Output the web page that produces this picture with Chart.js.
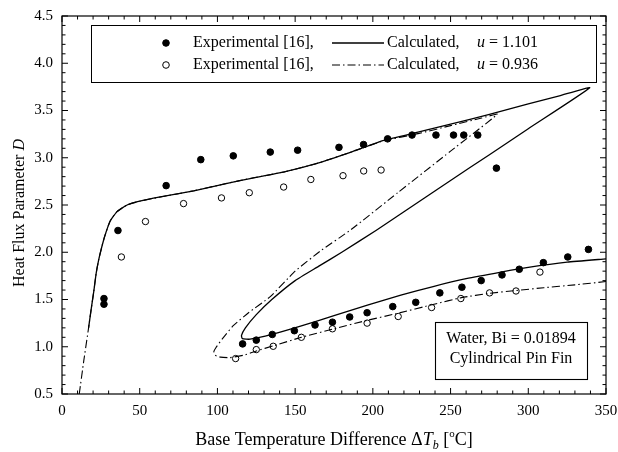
<!DOCTYPE html>
<html>
<head>
<meta charset="utf-8">
<script src="https://cdn.jsdelivr.net/npm/chart.js@4.4.1/dist/chart.umd.min.js"></script>
<style>
  html, body { margin: 0; padding: 0; background: #fff; }
  #wrap { position: relative; width: 618px; height: 452px; }
</style>
</head>
<body>
<div id="wrap"><canvas id="heatFluxChart"></canvas></div>
<script>
// Axis ticks
const xTicks = [0, 50, 100, 150, 200, 250, 300, 350];
const yTicks = [0.5, 1.0, 1.5, 2.0, 2.5, 3.0, 3.5, 4.0, 4.5];
const xMinorStep = 10;
const yMinorStep = 0.1;

// Experimental [16], filled markers
const expFilledX = [27, 27, 36, 67, 89.3, 110.2, 134, 151.6, 178.2, 194, 209.5, 225.2, 240.6, 251.9, 258.5, 267.5, 279.5,
  116.2, 125, 135.3, 149.5, 162.8, 174, 185.1, 196.3, 212.8, 227.6, 243.1, 257.3, 269.7, 283.1, 294.2, 309.7, 325.4, 338.7];
const expFilledY = [1.51, 1.45, 2.23, 2.705, 2.98, 3.02, 3.06, 3.08, 3.11, 3.14, 3.20, 3.24, 3.24, 3.24, 3.24, 3.24, 2.89,
  1.03, 1.07, 1.13, 1.17, 1.23, 1.26, 1.315, 1.36, 1.425, 1.47, 1.57, 1.63, 1.70, 1.76, 1.82, 1.89, 1.95, 2.03];

// Experimental [16], open markers
const expOpenX = [38.2, 53.7, 78.2, 102.6, 120.5, 142.6, 160.1, 180.8, 194.1, 205.3,
  111.7, 125, 135.9, 154, 174, 196.3, 216.3, 237.8, 256.6, 275.1, 292.1, 307.5];
const expOpenY = [1.95, 2.325, 2.515, 2.575, 2.63, 2.69, 2.77, 2.81, 2.86, 2.87,
  0.875, 0.97, 1.005, 1.10, 1.19, 1.25, 1.32, 1.415, 1.51, 1.57, 1.59, 1.79];

// Calculated, u = 1.101 (solid)
const calcAX = [17.1, 18.8, 20.4, 22, 23.6, 25.5, 27.5, 31, 35.4, 41.9, 50, 63.3, 84.8, 106.3, 121, 143, 164, 186, 207, 229,
  250, 275, 300, 320, 339.5, 300, 275, 250, 226, 202, 180, 165, 150, 135, 125, 118, 115.5, 116, 121,
  135, 154, 175, 196.5, 218, 239.4, 260, 282.4, 300, 325, 350];
const calcAY = [1.2, 1.4, 1.58, 1.78, 1.92, 2.05, 2.17, 2.33, 2.43, 2.50, 2.54, 2.585, 2.65, 2.73, 2.78, 2.85, 2.94, 3.06, 3.185, 3.27,
  3.355, 3.46, 3.57, 3.655, 3.74, 3.307, 3.032, 2.76, 2.494, 2.23, 2.00, 1.85, 1.70, 1.50, 1.34, 1.20, 1.12, 1.085, 1.08,
  1.13, 1.22, 1.33, 1.44, 1.545, 1.64, 1.72, 1.79, 1.84, 1.895, 1.93];

// Calculated, u = 0.936 (dash-dot)
const calcBX = [11.1, 14, 17.1, 18.8, 20.4, 22, 23.6, 25.5, 27.5, 31, 35.4, 41.9, 50, 63.3, 84.8, 106.3, 121, 143, 164, 186, 207, 229,
  250, 270, 280, 250, 216, 186, 166, 150, 134, 120, 110, 103, 99, 97.7, 98.5, 102, 108, 118, 125,
  136, 154, 175, 196.5, 215, 239.4, 257, 275, 292, 310, 330, 350];
const calcBY = [0.5, 0.85, 1.2, 1.4, 1.58, 1.78, 1.92, 2.05, 2.17, 2.33, 2.43, 2.50, 2.54, 2.585, 2.65, 2.73, 2.78, 2.85, 2.94, 3.06, 3.18, 3.255,
  3.34, 3.42, 3.46, 3.07, 2.63, 2.24, 2.01, 1.80, 1.53, 1.36, 1.22, 1.08, 0.99, 0.95, 0.91, 0.89, 0.885, 0.915, 0.955,
  1.01, 1.10, 1.19, 1.28, 1.35, 1.45, 1.52, 1.565, 1.595, 1.625, 1.655, 1.69];

const SERIF = "'Liberation Serif', 'Times New Roman', serif";
const dashDot = [8, 3, 1.5, 3];

function toPoints(xs, ys) {
  return xs.map((x, i) => ({ x: x, y: ys[i] }));
}

// draws a run of text pieces (some italic / sub / sup) starting at x
function drawPieces(ctx, pieces, x, y, size) {
  pieces.forEach((p) => {
    ctx.font = (p.italic ? "italic " : "") + (p.size || size) + "px " + SERIF;
    ctx.fillText(p.text, x, y + (p.dy || 0));
    x += ctx.measureText(p.text).width;
  });
  return x;
}
function piecesWidth(ctx, pieces, size) {
  let w = 0;
  pieces.forEach((p) => {
    ctx.font = (p.italic ? "italic " : "") + (p.size || size) + "px " + SERIF;
    w += ctx.measureText(p.text).width;
  });
  return w;
}

// Frame, inward ticks on all four sides, axis titles
const frameTicks = {
  id: "frameTicks",
  afterDatasetsDraw(chart) {
    const { ctx, chartArea: a, scales } = chart;
    ctx.save();
    ctx.strokeStyle = "#000";
    ctx.lineWidth = 1.2;
    ctx.strokeRect(a.left, a.top, a.right - a.left, a.bottom - a.top);

    ctx.beginPath();
    for (let v = xTicks[0]; v <= xTicks[xTicks.length - 1] + 0.001; v += xMinorStep) {
      const px = scales.x.getPixelForValue(v);
      const len = v % 50 === 0 ? 6 : 3.5;
      ctx.moveTo(px, a.bottom); ctx.lineTo(px, a.bottom - len);
      ctx.moveTo(px, a.top); ctx.lineTo(px, a.top + len);
    }
    for (let i = 0; i <= 40; i++) {
      const v = yTicks[0] + i * yMinorStep;
      const py = scales.y.getPixelForValue(v);
      const len = i % 5 === 0 ? 6 : 3.5;
      ctx.moveTo(a.left, py); ctx.lineTo(a.left + len, py);
      ctx.moveTo(a.right, py); ctx.lineTo(a.right - len, py);
    }
    ctx.lineWidth = 1;
    ctx.stroke();

    // x title
    ctx.fillStyle = "#000";
    ctx.textBaseline = "alphabetic";
    ctx.textAlign = "left";
    const xt = [
      { text: "Base Temperature Difference \u0394" },
      { text: "T", italic: true },
      { text: "b", italic: true, size: 12, dy: 4 },
      { text: " [" },
      { text: "o", size: 11, dy: -8 },
      { text: "C]" }
    ];
    const xw = piecesWidth(ctx, xt, 18);
    drawPieces(ctx, xt, (a.left + a.right) / 2 - xw / 2, 445, 18);

    // y title
    ctx.save();
    ctx.translate(24, 213);
    ctx.rotate(-Math.PI / 2);
    const yt = [{ text: "Heat Flux Parameter " }, { text: "D", italic: true }];
    const yw = piecesWidth(ctx, yt, 16);
    drawPieces(ctx, yt, -yw / 2, 0, 16);
    ctx.restore();
    ctx.restore();
  }
};

// Legend box and annotation box
const boxes = {
  id: "boxes",
  afterDraw(chart) {
    const { ctx } = chart;
    ctx.save();
    ctx.fillStyle = "#fff";
    ctx.strokeStyle = "#000";
    ctx.lineWidth = 1;
    ctx.fillRect(91, 25, 505, 57);
    ctx.strokeRect(91.5, 25.5, 505, 57);

    const rows = [
      { y: 43, filled: true, dash: [], uVal: "1.101" },
      { y: 65, filled: false, dash: dashDot, uVal: "0.936" }
    ];
    ctx.textBaseline = "middle";
    ctx.textAlign = "left";
    rows.forEach((r) => {
      ctx.beginPath();
      ctx.arc(166, r.y, 3.3, 0, Math.PI * 2);
      ctx.lineWidth = 1;
      ctx.strokeStyle = "#000";
      if (r.filled) { ctx.fillStyle = "#000"; ctx.fill(); }
      ctx.stroke();

      ctx.fillStyle = "#000";
      drawPieces(ctx, [{ text: "Experimental [16]," }], 193, r.y, 16);

      ctx.beginPath();
      ctx.setLineDash(r.dash);
      ctx.lineWidth = r.filled ? 1.3 : 1.1;
      ctx.moveTo(332, r.y);
      ctx.lineTo(384, r.y);
      ctx.stroke();
      ctx.setLineDash([]);

      drawPieces(ctx, [{ text: "Calculated," }], 387, r.y, 16);
      drawPieces(ctx, [{ text: "u", italic: true }], 477, r.y, 16);
      drawPieces(ctx, [{ text: "= " + r.uVal }], 489, r.y, 16);
    });

    // annotation
    ctx.fillStyle = "#fff";
    ctx.fillRect(435, 322, 152, 57);
    ctx.strokeRect(435.5, 322.5, 152, 57);
    ctx.fillStyle = "#000";
    ctx.textAlign = "center";
    ctx.font = "16px " + SERIF;
    ctx.fillText("Water, Bi = 0.01894", 511, 339);
    ctx.fillText("Cylindrical Pin Fin", 511, 359);
    ctx.restore();
  }
};

new Chart(document.getElementById("heatFluxChart"), {
  type: "scatter",
  data: {
    datasets: [
      {
        label: "Experimental [16] (u = 1.101)",
        data: toPoints(expFilledX, expFilledY),
        showLine: false,
        pointRadius: 3.3,
        pointBackgroundColor: "#000",
        pointBorderColor: "#000",
        pointBorderWidth: 1
      },
      {
        label: "Experimental [16] (u = 0.936)",
        data: toPoints(expOpenX, expOpenY),
        showLine: false,
        pointRadius: 3.2,
        pointBackgroundColor: "rgba(255,255,255,0)",
        pointBorderColor: "#000",
        pointBorderWidth: 1
      },
      {
        label: "Calculated, u = 1.101",
        data: toPoints(calcAX, calcAY),
        showLine: true,
        pointRadius: 0,
        borderColor: "#000",
        borderWidth: 1.3,
        tension: 0.15,
        fill: false
      },
      {
        label: "Calculated, u = 0.936",
        data: toPoints(calcBX, calcBY),
        showLine: true,
        pointRadius: 0,
        borderColor: "#000",
        borderWidth: 1.1,
        borderDash: dashDot,
        tension: 0.15,
        fill: false
      }
    ]
  },
  options: {
    responsive: true,
    maintainAspectRatio: false,
    animation: false,
    layout: { padding: { top: 16, right: 12, left: 0, bottom: 0 } },
    plugins: {
      legend: { display: false },
      tooltip: { enabled: false }
    },
    scales: {
      x: {
        type: "linear",
        min: 0,
        max: 350,
        grid: { display: false, drawTicks: false },
        border: { display: false },
        afterBuildTicks: (scale) => { scale.ticks = xTicks.map((v) => ({ value: v })); },
        afterFit: (scale) => {
          scale.height = 58;
          scale.paddingLeft = 0;
          scale.paddingRight = 0;
        },
        ticks: {
          padding: 8,
          color: "#000",
          maxRotation: 0,
          font: { family: SERIF, size: 15 }
        }
      },
      y: {
        type: "linear",
        min: 0.5,
        max: 4.5,
        grid: { display: false, drawTicks: false },
        border: { display: false },
        afterBuildTicks: (scale) => { scale.ticks = yTicks.map((v) => ({ value: v })); },
        afterFit: (scale) => {
          scale.width = 62;
          scale.paddingTop = 0;
          scale.paddingBottom = 0;
        },
        ticks: {
          padding: 9,
          color: "#000",
          font: { family: SERIF, size: 15 },
          callback: (v) => Number(v).toFixed(1)
        }
      }
    }
  },
  plugins: [frameTicks, boxes]
});
</script>
</body>
</html>
